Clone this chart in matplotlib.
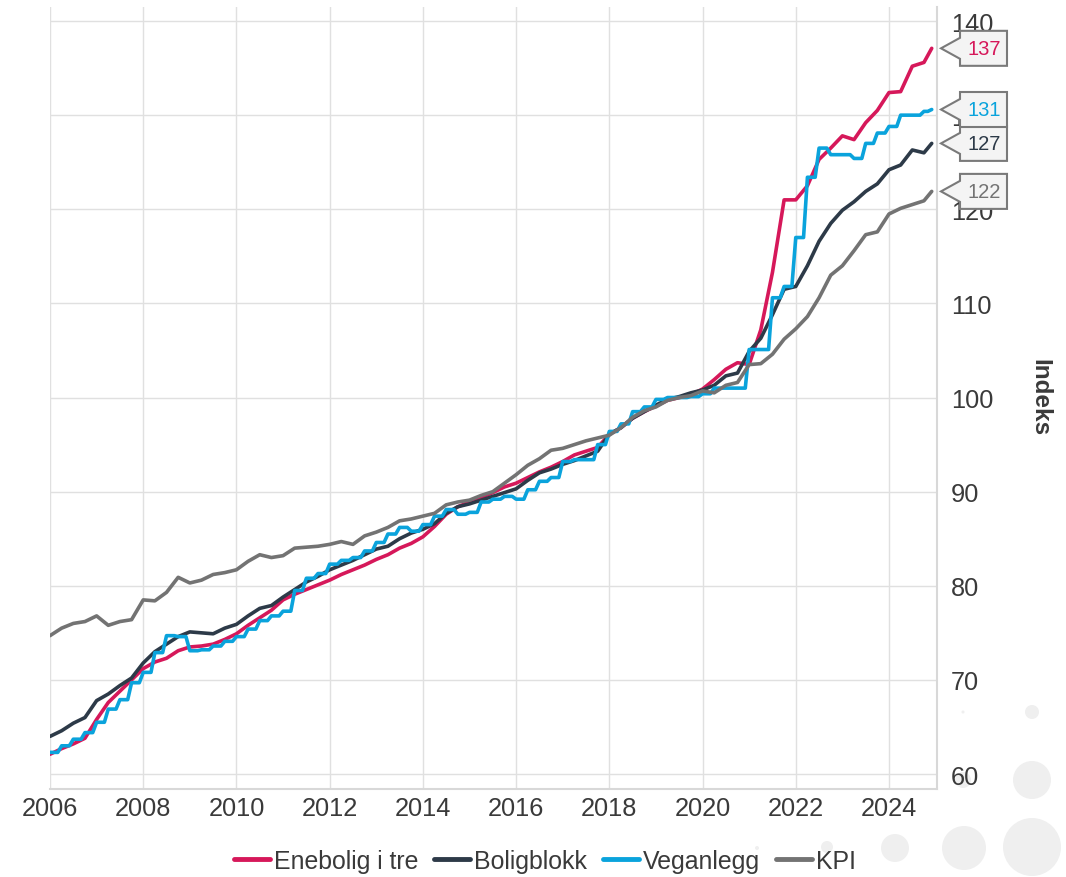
import numpy as np
import matplotlib
matplotlib.use("Agg")
import matplotlib.pyplot as plt
from matplotlib.patches import Polygon, Circle
from matplotlib.transforms import IdentityTransform

# ---- data (quarterly, index 2020=100) ----
months = list(range(0, 228, 3)) + [227]   # months since Jan 2006

enebolig = [
    62.1, 62.7, 63.2, 63.8,
    65.8, 67.6, 68.8, 70.0,
    71.2, 71.9, 72.3, 73.1,
    73.5, 73.6, 73.8, 74.3,
    74.9, 75.8, 76.6, 77.4,
    78.5, 79.1, 79.6, 80.1,
    80.6, 81.2, 81.7, 82.2,
    82.8, 83.3, 84.0, 84.5,
    85.2, 86.3, 87.6, 88.4,
    88.9, 89.4, 89.9, 90.5,
    90.9, 91.5, 92.1, 92.6,
    93.2, 93.9, 94.3, 94.7,
    96.1, 96.8, 97.8, 98.5,
    99.1, 99.7, 100.0, 100.3,
    100.9, 101.9, 103.0, 103.7,
    103.5, 107.2, 113.3, 121.0,
    121.0, 122.5, 125.3, 126.5,
    127.8, 127.4, 129.2, 130.5,
    132.4, 132.5, 135.2, 135.6,
    137.1,
]

boligblokk = [
    64.0, 64.6, 65.4, 66.0,
    67.8, 68.5, 69.4, 70.2,
    71.8, 73.0, 73.8, 74.6,
    75.1, 75.0, 74.9, 75.5,
    75.9, 76.8, 77.6, 77.9,
    78.8, 79.6, 80.4, 81.0,
    81.7, 82.2, 82.7, 83.3,
    83.9, 84.2, 85.0, 85.6,
    86.0, 86.6, 87.7, 88.4,
    88.7, 89.1, 89.5, 89.9,
    90.3, 91.2, 92.0, 92.4,
    92.9, 93.3, 93.8, 94.3,
    96.1, 96.8, 97.8, 98.5,
    99.2, 99.8, 100.1, 100.5,
    100.8, 101.3, 102.3, 102.6,
    104.9, 106.3, 108.8, 111.5,
    111.8, 114.0, 116.6, 118.5,
    119.9, 120.8, 121.9, 122.7,
    124.2, 124.7, 126.3, 126.0,
    127.0,
]

veganlegg = [
    62.3, 63.0, 63.7, 64.4,
    65.5, 66.9, 67.9, 69.7,
    70.8, 72.9, 74.7, 74.6,
    73.1, 73.2, 73.6, 74.1,
    74.6, 75.4, 76.3, 76.8,
    77.3, 79.5, 80.8, 81.3,
    82.3, 82.7, 83.0, 83.7,
    84.6, 85.5, 86.2, 85.8,
    86.5, 87.4, 88.1, 87.6,
    87.8, 88.9, 89.2, 89.5,
    89.2, 90.2, 91.1, 91.5,
    93.2, 93.4, 93.4, 95.0,
    96.4, 97.2, 98.5, 99.0,
    99.8, 100.0, 100.0, 100.1,
    100.4, 101.0, 101.0, 101.0,
    105.1, 105.1, 110.6, 111.8,
    117.0, 123.4, 126.5, 125.8,
    125.8, 125.4, 127.0, 128.1,
    128.8, 130.0, 130.0, 130.4,
    130.6,
]

kpi = [
    74.7, 75.5, 76.0, 76.2,
    76.8, 75.8, 76.2, 76.4,
    78.5, 78.4, 79.3, 80.9,
    80.3, 80.6, 81.2, 81.4,
    81.7, 82.6, 83.3, 83.0,
    83.2, 84.0, 84.1, 84.2,
    84.4, 84.7, 84.4, 85.3,
    85.7, 86.2, 86.9, 87.1,
    87.4, 87.7, 88.6, 88.9,
    89.1, 89.6, 90.0, 90.9,
    91.8, 92.8, 93.5, 94.4,
    94.6, 95.0, 95.4, 95.7,
    96.0, 96.8, 97.9, 98.6,
    99.0, 99.7, 100.0, 100.2,
    100.7, 100.5, 101.3, 101.6,
    103.5, 103.6, 104.6, 106.2,
    107.3, 108.6, 110.6, 113.0,
    114.0, 115.6, 117.3, 117.6,
    119.5, 120.1, 120.5, 120.9,
    121.9,
]

names = ["Enebolig i tre", "Boligblokk", "Veganlegg", "KPI"]
series = [enebolig, boligblokk, veganlegg, kpi]
colors = ["#d6185a", "#2d3a48", "#0aa3dc", "#737373"]
end_labels = ["137", "127", "131", "122"]   # per series, same order

x_ticks = list(range(2006, 2025, 2))
y_ticks = list(range(60, 141, 10))


def to_year(m):
    return 2006 + m / 12


def stepped(ms, vals):
    """Quarterly index held for the quarter, then moving to the next value."""
    xs, ys = [], []
    for i in range(len(ms) - 1):
        xs += [ms[i], ms[i + 1] - 1]
        ys += [vals[i], vals[i]]
    xs.append(ms[-1])
    ys.append(vals[-1])
    return [to_year(m) for m in xs], ys


# ---- figure ----
plt.rcParams["font.family"] = ["Liberation Sans", "DejaVu Sans"]
W, H = 1066, 878
fig = plt.figure(figsize=(W / 100, H / 100), dpi=100)
ax = fig.add_axes([50 / W, 1 - 790 / H, 887 / W, 782 / H])

for name, vals, c in zip(names, series, colors):
    if name == "Veganlegg":
        xs, ys = stepped(months, vals)
    else:
        xs, ys = [to_year(m) for m in months], vals
    ax.plot(xs, ys, color=c, lw=2.6, label=name,
            solid_joinstyle="round", solid_capstyle="round", zorder=3)

ax.set_xlim(2006, 2025.03)
ax.set_ylim(58.41, 141.49)
ax.set_xticks(x_ticks)
ax.set_xticklabels([str(t) for t in x_ticks])
ax.set_yticks(y_ticks)
ax.yaxis.tick_right()
ax.yaxis.set_label_position("right")
ax.tick_params(axis="both", length=0, labelsize=18.3, labelcolor="#3a3a3a")
ax.tick_params(axis="x", pad=5)
ax.tick_params(axis="y", pad=10)
for lbl in ax.get_yticklabels():
    lbl.set_horizontalalignment("left")
ax.grid(True, color="#e0e0e0", lw=1.0)
ax.set_axisbelow(True)
for s in ["left", "top"]:
    ax.spines[s].set_visible(False)
for s in ["right", "bottom"]:
    ax.spines[s].set_color("#d8d8d8")
    ax.spines[s].set_linewidth(1.5)

fig.text(1040 / W, 1 - 398 / H, "Indeks", rotation=-90, fontsize=17.5,
         fontweight="bold", color="#3a3a3a", ha="center", va="center")

# legend
leg = fig.legend(loc="center", bbox_to_anchor=(545 / W, 1 - 862 / H), ncol=4,
                 frameon=False, fontsize=17.9, handlelength=1.45,
                 handletextpad=0.18, columnspacing=0.62, labelcolor="#3a3a3a")
for lh in leg.get_lines():
    lh.set_linewidth(3.5)

# decorative background circles (pixel coords, from top)
circles = [(1032, 848, 29), (964, 849, 22), (1032, 781, 19), (895, 849, 14),
           (1032, 713, 7), (963, 781, 8), (827, 848, 6), (895, 781, 2),
           (963, 713, 1.5), (757, 849, 2)]
for cx, cy, r in circles:
    fig.add_artist(Circle((cx, H - cy), r, transform=IdentityTransform(),
                          facecolor="#efefef", edgecolor="none", zorder=-1))

# end-value callouts
x_end = to_year(months[-1])
for vals, c, txt in zip(series, colors, end_labels):
    _, yd = ax.transData.transform((x_end, vals[-1]))
    tip, bl, br = 941, 960, 1007
    hh, nh = 17.5, 10.5
    verts = [(tip, yd), (bl, yd + nh), (bl, yd + hh), (br, yd + hh),
             (br, yd - hh), (bl, yd - hh), (bl, yd - nh)]
    fig.add_artist(Polygon(verts, closed=True, transform=IdentityTransform(),
                           facecolor="#f4f4f4", edgecolor="#7a7a7a", lw=1.5,
                           zorder=5))
    fig.text(984 / W, yd / H, txt, color=c, fontsize=14.5, ha="center",
             va="center", zorder=6)

fig.savefig("out.png", dpi=100)
